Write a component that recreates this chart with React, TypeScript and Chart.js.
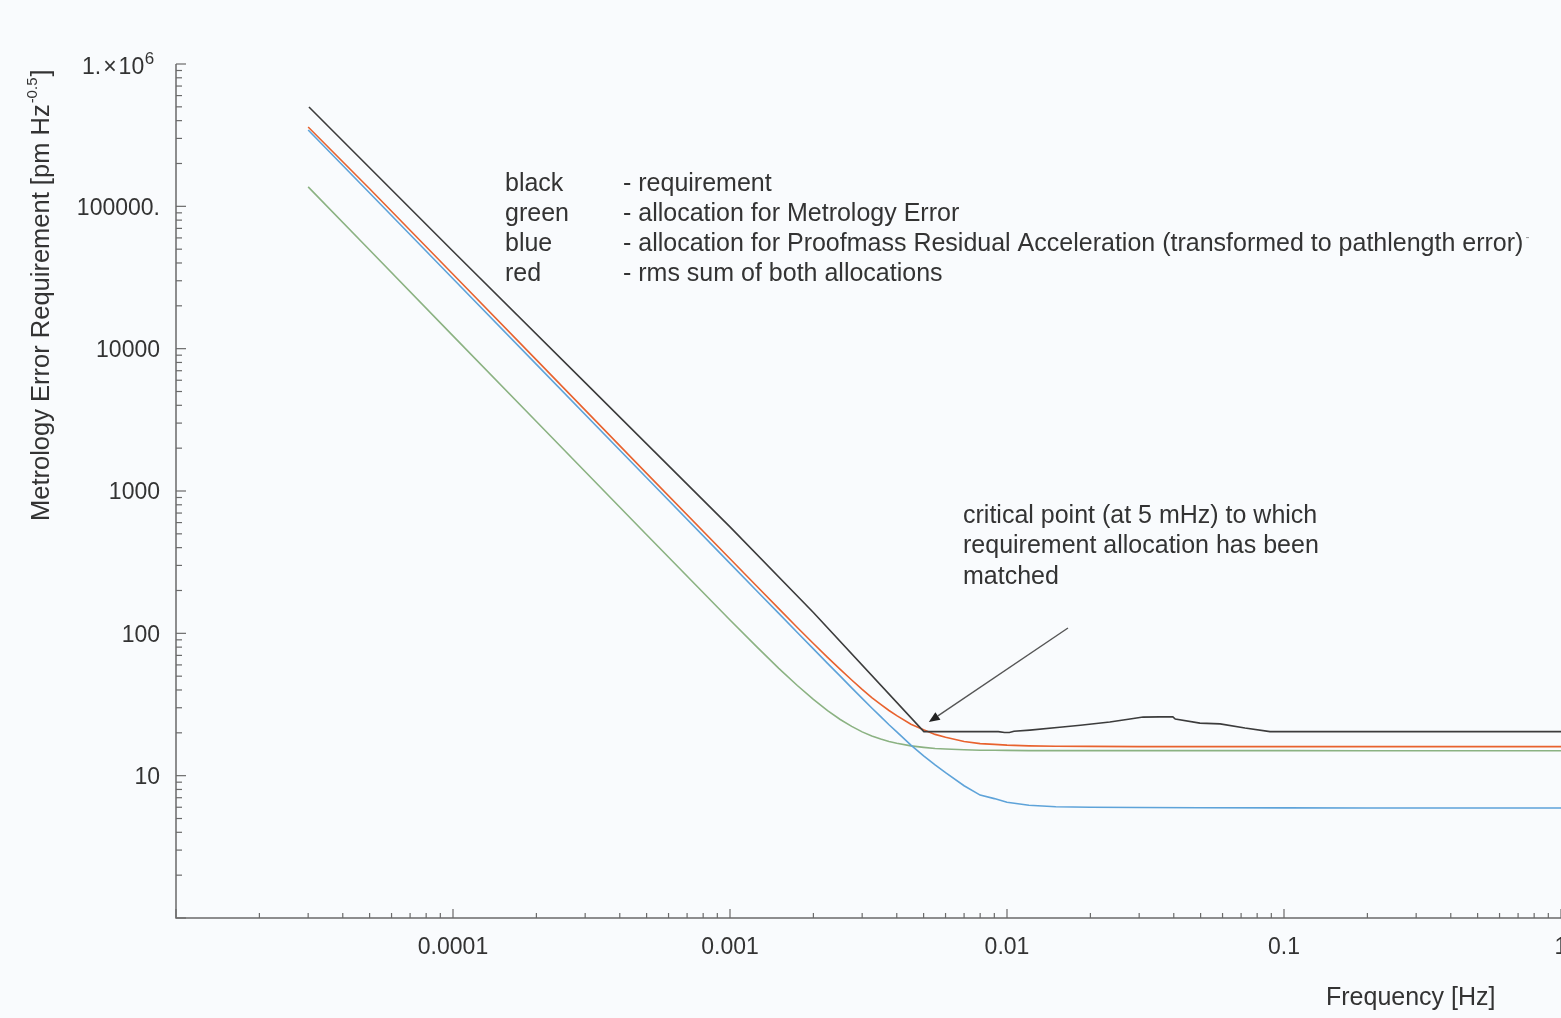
import React, { useEffect, useRef } from 'react';
import { Chart, registerables } from 'chart.js';

Chart.register(...registerables);

// ---- data ----
const FREQ = [3e-5, 5e-5, 1e-4, 2e-4, 5e-4, 1e-3, 1.25e-3, 1.5e-3, 1.75e-3, 2e-3, 2.25e-3, 2.5e-3, 2.75e-3, 3e-3, 3.25e-3, 3.5e-3, 3.75e-3, 4e-3, 4.5e-3, 5e-3, 5.5e-3, 6e-3, 7e-3, 8e-3, 9e-3, 1e-2, 1.2e-2, 1.5e-2, 2e-2, 3e-2, 5e-2, 0.1, 0.2, 0.5, 1];
const GREEN_METROLOGY = [137000, 49300, 12300, 3080, 493, 124, 80.3, 56.8, 43.0, 34.3, 28.6, 24.8, 22.2, 20.3, 19.0, 18.1, 17.4, 16.9, 16.2, 15.8, 15.5, 15.4, 15.2, 15.1, 15.08, 15.05, 15.0, 15.0, 15.0, 15.0, 15.0, 15.0, 14.98, 14.96, 14.95];
const BLUE_PROOFMASS = [344000, 124000, 31000, 7750, 1240, 310, 198.5, 138, 101.4, 77.7, 61.5, 50.0, 41.4, 34.9, 29.9, 26.0, 22.8, 20.3, 16.4, 13.8, 11.9, 10.5, 8.5, 7.3, 6.9, 6.5, 6.2, 6.05, 6.0, 5.97, 5.95, 5.94, 5.93, 5.93, 5.92];
const RED_RMS = [361000, 133000, 33300, 8340, 1330, 334, 214, 149, 110, 84.9, 67.8, 55.8, 47.0, 40.4, 35.4, 31.7, 28.7, 26.4, 23.0, 21.0, 19.5, 18.6, 17.4, 16.8, 16.6, 16.4, 16.2, 16.1, 16.05, 16.0, 16.0, 16.0, 16.0, 16.0, 16.0];

const REQ_FREQ = [3.02e-5, 1e-4, 3e-4, 1e-3, 2e-3, 5.01e-3, 9.3e-3, 9.8e-3, 1.02e-2, 1.06e-2, 1.21e-2, 1.55e-2, 1.84e-2, 2.35e-2, 2.78e-2, 3.1e-2, 3.56e-2, 3.97e-2, 4.05e-2, 4.97e-2, 5.88e-2, 7.23e-2, 8.9e-2, 0.2, 0.5, 1];
const REQ_BLACK = [499000, 48400, 5770, 560, 140, 20.4, 20.4, 20.1, 20.1, 20.5, 20.9, 21.9, 22.6, 23.8, 25.0, 25.8, 25.9, 25.9, 25.0, 23.4, 23.1, 21.6, 20.4, 20.4, 20.4, 20.4];

const X_TICK_VALUES = [1e-4, 1e-3, 1e-2, 1e-1, 1];
const X_TICK_LABELS = ['0.0001', '0.001', '0.01', '0.1', '1'];
const Y_TICK_VALUES = [10, 100, 1000, 10000, 100000];
const Y_TICK_LABELS = ['10', '100', '1000', '10000', '100000.'];
const Y_TOP_VALUE = 1e6;
const Y_TOP_PARTS = ['1.', '\u00D7', '10'];
const Y_TOP_EXP = '6';

const X_TITLE = 'Frequency [Hz]';
const Y_TITLE = 'Metrology Error Requirement [pm Hz';
const Y_TITLE_EXP = '-0.5';

const LEGEND_NAMES = ['black', 'green', 'blue', 'red'];
const LEGEND_TEXTS = [
  '- requirement',
  '- allocation for Metrology Error',
  '- allocation for Proofmass Residual Acceleration (transformed to pathlength error)',
  '- rms sum of both allocations',
];
const NOTE_LINES = ['critical point (at 5 mHz) to which', 'requirement allocation has been', 'matched'];
const ARROW_FROM = { x: 0.0166, y: 109 };
const ARROW_TO = { x: 0.00522, y: 23.8 };

// ---- styles ----
const FONT = '"Liberation Sans", Arial, Helvetica, sans-serif';
const BG = '#f9fbfd';
const TEXT = '#333333';
const AXIS = '#6a6a6a';
const C_BLACK = '#3c3c3c';
const C_RED = '#e8622e';
const C_BLUE = '#5ea3d9';
const C_GREEN = '#8bb282';

const decor = {
  id: 'decor',
  beforeDraw(chart: any) {
    const { ctx, width, height } = chart;
    ctx.save();
    ctx.fillStyle = BG;
    ctx.fillRect(0, 0, width, height);
    ctx.restore();
  },
  afterDraw(chart: any) {
    const { ctx, chartArea: a, scales } = chart;
    const xs = scales.x;
    const ys = scales.y;
    ctx.save();
    // axis lines
    ctx.strokeStyle = AXIS;
    ctx.lineWidth = 1.5;
    ctx.beginPath();
    ctx.moveTo(a.left, a.top);
    ctx.lineTo(a.left, a.bottom);
    ctx.lineTo(a.right + 2, a.bottom);
    ctx.stroke();

    // x ticks (inward)
    ctx.lineWidth = 1.2;
    for (let d = -5; d <= 0; d++) {
      for (let m = 1; m <= 9; m++) {
        const v = m * Math.pow(10, d);
        if (v > 1.0001) break;
        const px = xs.getPixelForValue(v);
        const len = m === 1 ? 9 : 5;
        ctx.beginPath();
        ctx.moveTo(px, a.bottom);
        ctx.lineTo(px, a.bottom - len);
        ctx.stroke();
      }
    }
    // y ticks (inward)
    for (let d = 0; d <= 6; d++) {
      for (let m = 1; m <= 9; m++) {
        const v = m * Math.pow(10, d);
        if (v > 1e6 * 1.0001) break;
        const py = ys.getPixelForValue(v);
        const len = m === 1 ? 10 : 6;
        ctx.beginPath();
        ctx.moveTo(a.left, py);
        ctx.lineTo(a.left + len, py);
        ctx.stroke();
      }
    }

    // tick labels
    ctx.fillStyle = TEXT;
    ctx.font = `23px ${FONT}`;
    ctx.textBaseline = 'middle';
    ctx.textAlign = 'center';
    X_TICK_VALUES.forEach((v, i) => {
      ctx.fillText(X_TICK_LABELS[i], xs.getPixelForValue(v), 948);
    });
    ctx.textAlign = 'right';
    Y_TICK_VALUES.forEach((v, i) => {
      ctx.fillText(Y_TICK_LABELS[i], 160, ys.getPixelForValue(v) + 2);
    });
    // top label "1. × 10^6"
    {
      const py = ys.getPixelForValue(Y_TOP_VALUE) + 4;
      ctx.textAlign = 'left';
      let x = 82;
      ctx.font = `23px ${FONT}`;
      Y_TOP_PARTS.forEach((p, i) => {
        ctx.fillText(p, x, py);
        x += ctx.measureText(p).width + (i < 2 ? 2 : 0);
      });
      ctx.font = `17px ${FONT}`;
      ctx.fillText(Y_TOP_EXP, x + 0.5, py - 9);
    }

    // x title
    ctx.font = `25px ${FONT}`;
    ctx.textAlign = 'left';
    ctx.fillText(X_TITLE, 1326, 998);

    // y title (rotated)
    ctx.save();
    ctx.translate(42, 521);
    ctx.rotate(-Math.PI / 2);
    ctx.font = `25.5px ${FONT}`;
    ctx.textAlign = 'left';
    ctx.fillText(Y_TITLE, 0, 0);
    const tw = ctx.measureText(Y_TITLE).width;
    ctx.font = `15px ${FONT}`;
    ctx.fillText(Y_TITLE_EXP, tw + 1, -9);
    const ew2 = ctx.measureText(Y_TITLE_EXP).width;
    ctx.font = `25.5px ${FONT}`;
    ctx.fillText(']', tw + ew2 + 2, 0);
    ctx.restore();

    // legend block
    ctx.font = `25px ${FONT}`;
    ctx.textAlign = 'left';
    LEGEND_NAMES.forEach((n, i) => {
      const y = 184 + i * 30;
      ctx.fillText(n, 505, y);
      ctx.fillText(LEGEND_TEXTS[i], 623, y);
      if (i === 2) {
        const w = ctx.measureText(LEGEND_TEXTS[i]).width;
        ctx.save();
        ctx.fillStyle = '#9a9a9a';
        ctx.font = `12px ${FONT}`;
        ctx.fillText('-', 623 + w + 2, y - 6);
        ctx.restore();
      }
    });

    // annotation
    NOTE_LINES.forEach((t, i) => {
      ctx.fillText(t, 963, 516 + i * 30.5);
    });

    // arrow
    const x0 = xs.getPixelForValue(ARROW_FROM.x);
    const y0 = ys.getPixelForValue(ARROW_FROM.y);
    const x1 = xs.getPixelForValue(ARROW_TO.x);
    const y1 = ys.getPixelForValue(ARROW_TO.y);
    ctx.strokeStyle = '#555555';
    ctx.lineWidth = 1.4;
    const ang = Math.atan2(y1 - y0, x1 - x0);
    const hl = 11;
    const hw = 4.5;
    const bx = x1 - hl * Math.cos(ang);
    const by = y1 - hl * Math.sin(ang);
    ctx.beginPath();
    ctx.moveTo(x0, y0);
    ctx.lineTo(bx, by);
    ctx.stroke();
    ctx.fillStyle = '#222222';
    ctx.beginPath();
    ctx.moveTo(x1, y1);
    ctx.lineTo(bx + hw * Math.sin(ang), by - hw * Math.cos(ang));
    ctx.lineTo(bx - hw * Math.sin(ang), by + hw * Math.cos(ang));
    ctx.closePath();
    ctx.fill();

    ctx.restore();
  },
};

function pts(xs: number[], ys: number[]) {
  return xs.map((x, i) => ({ x, y: ys[i] }));
}

export default function App() {
  const ref = useRef<HTMLCanvasElement | null>(null);
  useEffect(() => {
    document.body.style.overflow = 'hidden';
    const canvas = ref.current;
    if (!canvas) return;
    const chart = new Chart(canvas, {
      type: 'line',
      data: {
        datasets: [
          { label: 'requirement', data: pts(REQ_FREQ, REQ_BLACK), borderColor: C_BLACK, borderWidth: 1.6, pointRadius: 0, order: 0 },
          { label: 'rms sum', data: pts(FREQ, RED_RMS), borderColor: C_RED, borderWidth: 1.6, pointRadius: 0, order: 1 },
          { label: 'proofmass', data: pts(FREQ, BLUE_PROOFMASS), borderColor: C_BLUE, borderWidth: 1.6, pointRadius: 0, order: 2 },
          { label: 'metrology', data: pts(FREQ, GREEN_METROLOGY), borderColor: C_GREEN, borderWidth: 1.6, pointRadius: 0, order: 3 },
        ],
      },
      options: {
        responsive: false,
        animation: false,
        events: [],
        layout: { padding: { left: 176, top: 64, right: 0, bottom: 100 } },
        plugins: { legend: { display: false }, tooltip: { enabled: false }, title: { display: false } },
        elements: { line: { tension: 0 } },
        scales: {
          x: { type: 'logarithmic', min: 1e-5, max: 1, display: false },
          y: { type: 'logarithmic', min: 1, max: 1e6, display: false },
        },
      },
      plugins: [decor],
    } as any);
    return () => chart.destroy();
  }, []);
  return (
    <div style={{ position: 'fixed', left: 0, top: 0, width: 1561, height: 1018, background: BG, overflow: 'hidden' }}>
      <canvas ref={ref} width={1561} height={1018} style={{ display: 'block' }} />
    </div>
  );
}
